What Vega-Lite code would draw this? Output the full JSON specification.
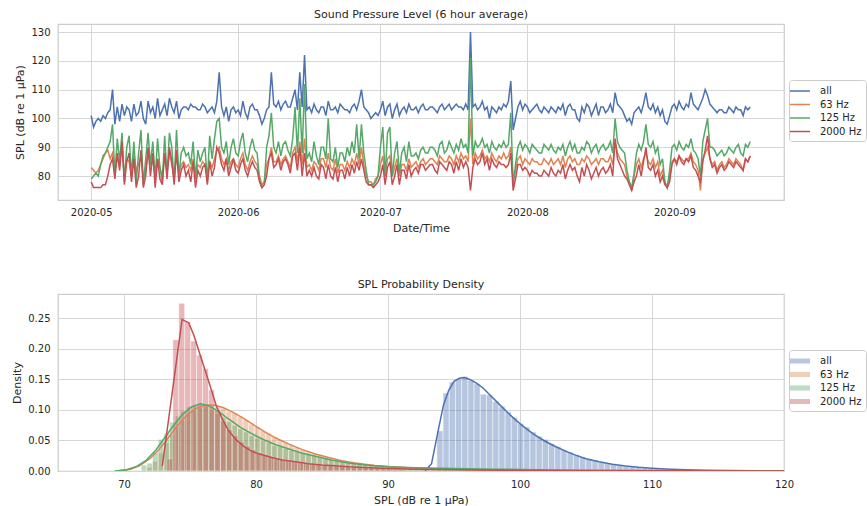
{
"$schema": "https://vega.github.io/schema/vega-lite/v6.json",
"background": "white",
"padding": {"left": 11, "top": 8, "right": 0, "bottom": 0},
"config": {
  "font": "DejaVu Sans",
  "view": {"stroke": "#cccccc", "strokeWidth": 1.25},
  "axis": {"grid": true, "gridColor": "#d6d6d6", "gridWidth": 1, "ticks": false, "domain": false, "labelFontSize": 10, "labelColor": "#262626", "titleFontSize": 11, "titleFontWeight": "normal", "titleColor": "#262626", "labelPadding": 8, "titlePadding": 5, "labelFlush": false, "labelOverlap": false},
  "title": {"fontSize": 11, "fontWeight": "normal", "color": "#262626", "offset": 4},
  "legend": {"labelFontSize": 10, "labelColor": "#262626", "strokeColor": "#cccccc", "fillColor": "white", "padding": 4, "cornerRadius": 3, "rowPadding": 1.5, "labelOffset": 13},
  "concat": {"spacing": 44}
},
"resolve": {"scale": {"color": "independent"}},
"datasets": {
"spl": [
{"t":"2020-05-01T00:00","a":101,"o":83,"g":79,"r":78},{"t":"2020-05-01T12:00","a":97,"o":82,"g":80,"r":76},
{"t":"2020-05-02T00:00","a":99,"o":81,"g":81,"r":76},{"t":"2020-05-02T12:00","a":100,"o":82,"g":80,"r":76},
{"t":"2020-05-03T00:00","a":99,"o":84,"g":84,"r":76},{"t":"2020-05-03T12:00","a":101,"o":86,"g":87,"r":77},
{"t":"2020-05-04T00:00","a":100,"o":88,"g":88,"r":77},{"t":"2020-05-04T12:00","a":102,"o":89,"g":90,"r":80},
{"t":"2020-05-05T00:00","a":103,"o":86,"g":92,"r":84},{"t":"2020-05-05T12:00","a":110,"o":88,"g":98,"r":86},
{"t":"2020-05-06T00:00","a":98,"o":82,"g":80,"r":79},{"t":"2020-05-06T12:00","a":104,"o":86,"g":93,"r":88},
{"t":"2020-05-07T00:00","a":99,"o":84,"g":85,"r":82},{"t":"2020-05-07T12:00","a":105,"o":90,"g":95,"r":92},
{"t":"2020-05-08T00:00","a":101,"o":80,"g":78,"r":77},{"t":"2020-05-08T12:00","a":104,"o":86,"g":90,"r":85},
{"t":"2020-05-09T00:00","a":103,"o":85,"g":94,"r":88},{"t":"2020-05-09T12:00","a":99,"o":80,"g":80,"r":78},
{"t":"2020-05-10T00:00","a":105,"o":88,"g":92,"r":86},{"t":"2020-05-10T12:00","a":101,"o":82,"g":78,"r":76},
{"t":"2020-05-11T00:00","a":102,"o":84,"g":88,"r":80},{"t":"2020-05-11T12:00","a":106,"o":87,"g":96,"r":89},
{"t":"2020-05-12T00:00","a":100,"o":79,"g":77,"r":76},{"t":"2020-05-12T12:00","a":98,"o":82,"g":86,"r":80},
{"t":"2020-05-13T00:00","a":106,"o":88,"g":95,"r":90},{"t":"2020-05-13T12:00","a":102,"o":84,"g":84,"r":80},
{"t":"2020-05-14T00:00","a":104,"o":85,"g":92,"r":88},{"t":"2020-05-14T12:00","a":100,"o":80,"g":79,"r":76},
{"t":"2020-05-15T00:00","a":107,"o":86,"g":93,"r":86},{"t":"2020-05-15T12:00","a":101,"o":83,"g":83,"r":79},
{"t":"2020-05-16T00:00","a":103,"o":80,"g":78,"r":77},{"t":"2020-05-16T12:00","a":105,"o":87,"g":94,"r":88},
{"t":"2020-05-17T00:00","a":101,"o":82,"g":80,"r":79},{"t":"2020-05-17T12:00","a":107,"o":88,"g":95,"r":90},
{"t":"2020-05-18T00:00","a":104,"o":84,"g":90,"r":85},{"t":"2020-05-18T12:00","a":102,"o":80,"g":78,"r":77},
{"t":"2020-05-19T00:00","a":106,"o":87,"g":96,"r":89},{"t":"2020-05-19T12:00","a":100,"o":81,"g":80,"r":78},
{"t":"2020-05-20T00:00","a":103,"o":84,"g":88,"r":82},{"t":"2020-05-20T12:00","a":104,"o":85,"g":90,"r":84},
{"t":"2020-05-21T00:00","a":104,"o":83,"g":87,"r":80},{"t":"2020-05-21T12:00","a":103,"o":84,"g":88,"r":82},
{"t":"2020-05-22T00:00","a":105,"o":82,"g":84,"r":78},{"t":"2020-05-22T12:00","a":104,"o":86,"g":92,"r":85},
{"t":"2020-05-23T00:00","a":104,"o":80,"g":79,"r":76},{"t":"2020-05-23T12:00","a":103,"o":84,"g":89,"r":82},
{"t":"2020-05-24T00:00","a":103,"o":83,"g":85,"r":80},{"t":"2020-05-24T12:00","a":105,"o":85,"g":88,"r":83},
{"t":"2020-05-25T00:00","a":104,"o":84,"g":90,"r":84},{"t":"2020-05-25T12:00","a":102,"o":80,"g":78,"r":77},
{"t":"2020-05-26T00:00","a":103,"o":85,"g":94,"r":85},{"t":"2020-05-26T12:00","a":104,"o":83,"g":86,"r":80},
{"t":"2020-05-27T00:00","a":102,"o":86,"g":93,"r":83},{"t":"2020-05-27T12:00","a":106,"o":89,"g":99,"r":90},
{"t":"2020-05-28T00:00","a":116,"o":90,"g":100,"r":88},{"t":"2020-05-28T12:00","a":104,"o":86,"g":90,"r":84},
{"t":"2020-05-29T00:00","a":101,"o":84,"g":88,"r":82},{"t":"2020-05-29T12:00","a":104,"o":86,"g":92,"r":86},
{"t":"2020-05-30T00:00","a":99,"o":82,"g":84,"r":80},{"t":"2020-05-30T12:00","a":103,"o":85,"g":90,"r":83},
{"t":"2020-05-31T00:00","a":104,"o":86,"g":93,"r":86},{"t":"2020-05-31T12:00","a":102,"o":84,"g":88,"r":82},
{"t":"2020-06-01T00:00","a":103,"o":83,"g":87,"r":81},{"t":"2020-06-01T12:00","a":101,"o":86,"g":92,"r":84},
{"t":"2020-06-02T00:00","a":106,"o":88,"g":95,"r":86},{"t":"2020-06-02T12:00","a":102,"o":84,"g":88,"r":82},
{"t":"2020-06-03T00:00","a":100,"o":82,"g":85,"r":80},{"t":"2020-06-03T12:00","a":104,"o":85,"g":90,"r":83},
{"t":"2020-06-04T00:00","a":105,"o":87,"g":93,"r":85},{"t":"2020-06-04T12:00","a":103,"o":85,"g":89,"r":83},
{"t":"2020-06-05T00:00","a":103,"o":84,"g":88,"r":82},{"t":"2020-06-05T12:00","a":101,"o":80,"g":79,"r":78},
{"t":"2020-06-06T00:00","a":98,"o":77,"g":76,"r":76},{"t":"2020-06-06T12:00","a":100,"o":78,"g":77,"r":77},
{"t":"2020-06-07T00:00","a":103,"o":84,"g":90,"r":80},{"t":"2020-06-07T12:00","a":104,"o":86,"g":94,"r":86},
{"t":"2020-06-08T00:00","a":116,"o":90,"g":102,"r":88},{"t":"2020-06-08T12:00","a":105,"o":85,"g":90,"r":83},
{"t":"2020-06-09T00:00","a":104,"o":85,"g":88,"r":84},{"t":"2020-06-09T12:00","a":106,"o":87,"g":92,"r":86},
{"t":"2020-06-10T00:00","a":103,"o":84,"g":87,"r":82},{"t":"2020-06-10T12:00","a":105,"o":86,"g":91,"r":85},
{"t":"2020-06-11T00:00","a":106,"o":87,"g":92,"r":86},{"t":"2020-06-11T12:00","a":104,"o":85,"g":89,"r":84},
{"t":"2020-06-12T00:00","a":104,"o":83,"g":87,"r":81},{"t":"2020-06-12T12:00","a":107,"o":88,"g":93,"r":87},
{"t":"2020-06-13T00:00","a":110,"o":90,"g":104,"r":88},{"t":"2020-06-13T12:00","a":103,"o":85,"g":88,"r":82},
{"t":"2020-06-14T00:00","a":116,"o":92,"g":107,"r":90},{"t":"2020-06-14T12:00","a":104,"o":84,"g":88,"r":80},
{"t":"2020-06-15T00:00","a":122,"o":93,"g":112,"r":88},{"t":"2020-06-15T12:00","a":103,"o":83,"g":86,"r":80},
{"t":"2020-06-16T00:00","a":104,"o":84,"g":88,"r":82},{"t":"2020-06-16T12:00","a":102,"o":82,"g":85,"r":80},
{"t":"2020-06-17T00:00","a":105,"o":85,"g":92,"r":83},{"t":"2020-06-17T12:00","a":103,"o":84,"g":87,"r":80},
{"t":"2020-06-18T00:00","a":102,"o":82,"g":84,"r":79},{"t":"2020-06-18T12:00","a":104,"o":86,"g":90,"r":84},
{"t":"2020-06-19T00:00","a":104,"o":86,"g":90,"r":83},{"t":"2020-06-19T12:00","a":101,"o":83,"g":86,"r":79},
{"t":"2020-06-20T00:00","a":106,"o":88,"g":100,"r":84},{"t":"2020-06-20T12:00","a":103,"o":83,"g":86,"r":80},
{"t":"2020-06-21T00:00","a":103,"o":82,"g":85,"r":79},{"t":"2020-06-21T12:00","a":104,"o":86,"g":90,"r":83},
{"t":"2020-06-22T00:00","a":102,"o":81,"g":83,"r":78},{"t":"2020-06-22T12:00","a":105,"o":84,"g":88,"r":82},
{"t":"2020-06-23T00:00","a":104,"o":84,"g":88,"r":82},{"t":"2020-06-23T12:00","a":103,"o":82,"g":85,"r":79},
{"t":"2020-06-24T00:00","a":103,"o":85,"g":90,"r":83},{"t":"2020-06-24T12:00","a":102,"o":83,"g":87,"r":80},
{"t":"2020-06-25T00:00","a":104,"o":86,"g":92,"r":84},{"t":"2020-06-25T12:00","a":105,"o":84,"g":88,"r":81},
{"t":"2020-06-26T00:00","a":103,"o":88,"g":98,"r":85},{"t":"2020-06-26T12:00","a":106,"o":84,"g":86,"r":82},
{"t":"2020-06-27T00:00","a":110,"o":90,"g":98,"r":86},{"t":"2020-06-27T12:00","a":104,"o":84,"g":88,"r":82},
{"t":"2020-06-28T00:00","a":103,"o":80,"g":82,"r":78},{"t":"2020-06-28T12:00","a":102,"o":78,"g":77,"r":77},
{"t":"2020-06-29T00:00","a":100,"o":78,"g":77,"r":77},{"t":"2020-06-29T12:00","a":101,"o":77,"g":77,"r":76},
{"t":"2020-06-30T00:00","a":102,"o":79,"g":78,"r":77},{"t":"2020-06-30T12:00","a":101,"o":80,"g":80,"r":78},
{"t":"2020-07-01T00:00","a":103,"o":84,"g":90,"r":80},{"t":"2020-07-01T12:00","a":106,"o":87,"g":97,"r":84},
{"t":"2020-07-02T00:00","a":101,"o":80,"g":80,"r":77},{"t":"2020-07-02T12:00","a":104,"o":86,"g":95,"r":83},
{"t":"2020-07-03T00:00","a":105,"o":87,"g":97,"r":85},{"t":"2020-07-03T12:00","a":100,"o":80,"g":80,"r":77},
{"t":"2020-07-04T00:00","a":103,"o":83,"g":88,"r":80},{"t":"2020-07-04T12:00","a":105,"o":86,"g":92,"r":84},
{"t":"2020-07-05T00:00","a":101,"o":80,"g":81,"r":77},{"t":"2020-07-05T12:00","a":103,"o":84,"g":88,"r":82},
{"t":"2020-07-06T00:00","a":104,"o":84,"g":90,"r":82},{"t":"2020-07-06T12:00","a":102,"o":82,"g":85,"r":79},
{"t":"2020-07-07T00:00","a":105,"o":86,"g":92,"r":84},{"t":"2020-07-07T12:00","a":103,"o":83,"g":87,"r":80},
{"t":"2020-07-08T00:00","a":103,"o":84,"g":87,"r":82},{"t":"2020-07-08T12:00","a":104,"o":85,"g":88,"r":83},
{"t":"2020-07-09T00:00","a":102,"o":83,"g":86,"r":81},{"t":"2020-07-09T12:00","a":104,"o":85,"g":89,"r":84},
{"t":"2020-07-10T00:00","a":105,"o":86,"g":90,"r":84},{"t":"2020-07-10T12:00","a":103,"o":84,"g":88,"r":82},
{"t":"2020-07-11T00:00","a":103,"o":85,"g":88,"r":83},{"t":"2020-07-11T12:00","a":104,"o":86,"g":90,"r":84},
{"t":"2020-07-12T00:00","a":104,"o":86,"g":90,"r":84},{"t":"2020-07-12T12:00","a":103,"o":85,"g":89,"r":82},
{"t":"2020-07-13T00:00","a":102,"o":84,"g":87,"r":81},{"t":"2020-07-13T12:00","a":104,"o":87,"g":91,"r":85},
{"t":"2020-07-14T00:00","a":105,"o":86,"g":92,"r":84},{"t":"2020-07-14T12:00","a":103,"o":85,"g":88,"r":83},
{"t":"2020-07-15T00:00","a":104,"o":85,"g":89,"r":82},{"t":"2020-07-15T12:00","a":105,"o":87,"g":92,"r":85},
{"t":"2020-07-16T00:00","a":103,"o":86,"g":90,"r":84},{"t":"2020-07-16T12:00","a":104,"o":84,"g":88,"r":81},
{"t":"2020-07-17T00:00","a":105,"o":87,"g":91,"r":85},{"t":"2020-07-17T12:00","a":104,"o":85,"g":89,"r":82},
{"t":"2020-07-18T00:00","a":104,"o":88,"g":93,"r":86},{"t":"2020-07-18T12:00","a":103,"o":86,"g":90,"r":83},
{"t":"2020-07-19T00:00","a":105,"o":87,"g":91,"r":85},{"t":"2020-07-19T12:00","a":103,"o":85,"g":88,"r":83},
{"t":"2020-07-20T00:00","a":130,"o":100,"g":121,"r":75},{"t":"2020-07-20T12:00","a":104,"o":84,"g":87,"r":83},
{"t":"2020-07-21T00:00","a":105,"o":88,"g":92,"r":86},{"t":"2020-07-21T12:00","a":103,"o":86,"g":90,"r":84},
{"t":"2020-07-22T00:00","a":104,"o":87,"g":91,"r":85},{"t":"2020-07-22T12:00","a":106,"o":89,"g":93,"r":88},
{"t":"2020-07-23T00:00","a":103,"o":86,"g":90,"r":84},{"t":"2020-07-23T12:00","a":104,"o":87,"g":91,"r":86},
{"t":"2020-07-24T00:00","a":100,"o":85,"g":88,"r":82},{"t":"2020-07-24T12:00","a":104,"o":88,"g":92,"r":86},
{"t":"2020-07-25T00:00","a":103,"o":86,"g":90,"r":84},{"t":"2020-07-25T12:00","a":102,"o":85,"g":89,"r":83},
{"t":"2020-07-26T00:00","a":104,"o":87,"g":91,"r":85},{"t":"2020-07-26T12:00","a":103,"o":86,"g":90,"r":84},
{"t":"2020-07-27T00:00","a":105,"o":88,"g":92,"r":84},{"t":"2020-07-27T12:00","a":104,"o":86,"g":90,"r":83},
{"t":"2020-07-28T00:00","a":106,"o":87,"g":91,"r":84},{"t":"2020-07-28T12:00","a":113,"o":90,"g":102,"r":88},
{"t":"2020-07-29T00:00","a":96,"o":78,"g":77,"r":75},{"t":"2020-07-29T12:00","a":100,"o":82,"g":84,"r":79},
{"t":"2020-07-30T00:00","a":104,"o":86,"g":90,"r":84},{"t":"2020-07-30T12:00","a":106,"o":87,"g":92,"r":84},
{"t":"2020-07-31T00:00","a":103,"o":84,"g":89,"r":82},{"t":"2020-07-31T12:00","a":105,"o":86,"g":91,"r":83},
{"t":"2020-08-01T00:00","a":104,"o":85,"g":90,"r":82},{"t":"2020-08-01T12:00","a":102,"o":84,"g":88,"r":80},
{"t":"2020-08-02T00:00","a":103,"o":86,"g":91,"r":82},{"t":"2020-08-02T12:00","a":104,"o":85,"g":90,"r":81},
{"t":"2020-08-03T00:00","a":105,"o":85,"g":89,"r":81},{"t":"2020-08-03T12:00","a":103,"o":84,"g":88,"r":80},
{"t":"2020-08-04T00:00","a":102,"o":84,"g":88,"r":80},{"t":"2020-08-04T12:00","a":104,"o":86,"g":91,"r":82},
{"t":"2020-08-05T00:00","a":103,"o":85,"g":90,"r":81},{"t":"2020-08-05T12:00","a":102,"o":84,"g":89,"r":80},
{"t":"2020-08-06T00:00","a":104,"o":86,"g":91,"r":83},{"t":"2020-08-06T12:00","a":103,"o":84,"g":89,"r":81},
{"t":"2020-08-07T00:00","a":102,"o":85,"g":88,"r":80},{"t":"2020-08-07T12:00","a":104,"o":86,"g":90,"r":82},
{"t":"2020-08-08T00:00","a":103,"o":84,"g":89,"r":81},{"t":"2020-08-08T12:00","a":105,"o":87,"g":91,"r":84},
{"t":"2020-08-09T00:00","a":101,"o":83,"g":87,"r":79},{"t":"2020-08-09T12:00","a":104,"o":86,"g":90,"r":82},
{"t":"2020-08-10T00:00","a":105,"o":87,"g":92,"r":84},{"t":"2020-08-10T12:00","a":103,"o":85,"g":89,"r":82},
{"t":"2020-08-11T00:00","a":103,"o":86,"g":91,"r":83},{"t":"2020-08-11T12:00","a":100,"o":84,"g":88,"r":80},
{"t":"2020-08-12T00:00","a":99,"o":84,"g":88,"r":78},{"t":"2020-08-12T12:00","a":104,"o":86,"g":90,"r":83},
{"t":"2020-08-13T00:00","a":102,"o":85,"g":89,"r":80},{"t":"2020-08-13T12:00","a":105,"o":87,"g":92,"r":84},
{"t":"2020-08-14T00:00","a":104,"o":86,"g":91,"r":82},{"t":"2020-08-14T12:00","a":101,"o":84,"g":88,"r":79},
{"t":"2020-08-15T00:00","a":103,"o":85,"g":90,"r":81},{"t":"2020-08-15T12:00","a":105,"o":86,"g":91,"r":83},
{"t":"2020-08-16T00:00","a":101,"o":84,"g":88,"r":80},{"t":"2020-08-16T12:00","a":104,"o":86,"g":90,"r":82},
{"t":"2020-08-17T00:00","a":104,"o":86,"g":91,"r":83},{"t":"2020-08-17T12:00","a":102,"o":85,"g":89,"r":81},
{"t":"2020-08-18T00:00","a":103,"o":85,"g":90,"r":82},{"t":"2020-08-18T12:00","a":105,"o":87,"g":92,"r":84},
{"t":"2020-08-19T00:00","a":102,"o":84,"g":88,"r":80},{"t":"2020-08-19T12:00","a":109,"o":92,"g":100,"r":93},
{"t":"2020-08-20T00:00","a":105,"o":88,"g":92,"r":86},{"t":"2020-08-20T12:00","a":104,"o":86,"g":90,"r":84},
{"t":"2020-08-21T00:00","a":103,"o":85,"g":89,"r":82},{"t":"2020-08-21T12:00","a":101,"o":84,"g":88,"r":80},
{"t":"2020-08-22T00:00","a":99,"o":80,"g":82,"r":79},{"t":"2020-08-22T12:00","a":100,"o":78,"g":78,"r":77},
{"t":"2020-08-23T00:00","a":98,"o":75,"g":76,"r":75},{"t":"2020-08-23T12:00","a":102,"o":80,"g":81,"r":78},
{"t":"2020-08-24T00:00","a":103,"o":84,"g":88,"r":80},{"t":"2020-08-24T12:00","a":104,"o":86,"g":91,"r":84},
{"t":"2020-08-25T00:00","a":102,"o":83,"g":89,"r":80},{"t":"2020-08-25T12:00","a":105,"o":86,"g":92,"r":85},
{"t":"2020-08-26T00:00","a":109,"o":88,"g":98,"r":90},{"t":"2020-08-26T12:00","a":104,"o":85,"g":91,"r":83},
{"t":"2020-08-27T00:00","a":103,"o":84,"g":90,"r":82},{"t":"2020-08-27T12:00","a":105,"o":86,"g":92,"r":84},
{"t":"2020-08-28T00:00","a":102,"o":83,"g":88,"r":80},{"t":"2020-08-28T12:00","a":104,"o":85,"g":90,"r":82},
{"t":"2020-08-29T00:00","a":101,"o":80,"g":84,"r":78},{"t":"2020-08-29T12:00","a":103,"o":82,"g":86,"r":80},
{"t":"2020-08-30T00:00","a":99,"o":78,"g":78,"r":77},{"t":"2020-08-30T12:00","a":98,"o":76,"g":76,"r":76},
{"t":"2020-08-31T00:00","a":101,"o":80,"g":82,"r":78},{"t":"2020-08-31T12:00","a":104,"o":85,"g":90,"r":84},
{"t":"2020-09-01T00:00","a":105,"o":86,"g":91,"r":86},{"t":"2020-09-01T12:00","a":103,"o":85,"g":89,"r":84},
{"t":"2020-09-02T00:00","a":106,"o":87,"g":92,"r":87},{"t":"2020-09-02T12:00","a":104,"o":86,"g":90,"r":85},
{"t":"2020-09-03T00:00","a":103,"o":85,"g":89,"r":84},{"t":"2020-09-03T12:00","a":105,"o":86,"g":91,"r":86},
{"t":"2020-09-04T00:00","a":104,"o":86,"g":90,"r":85},{"t":"2020-09-04T12:00","a":109,"o":88,"g":93,"r":87},
{"t":"2020-09-05T00:00","a":105,"o":85,"g":89,"r":83},{"t":"2020-09-05T12:00","a":104,"o":84,"g":88,"r":82},
{"t":"2020-09-06T00:00","a":103,"o":82,"g":86,"r":80},{"t":"2020-09-06T12:00","a":105,"o":75,"g":80,"r":78},
{"t":"2020-09-07T00:00","a":107,"o":86,"g":92,"r":85},{"t":"2020-09-07T12:00","a":110,"o":88,"g":96,"r":89},
{"t":"2020-09-08T00:00","a":108,"o":90,"g":100,"r":94},{"t":"2020-09-08T12:00","a":105,"o":86,"g":90,"r":86},
{"t":"2020-09-09T00:00","a":104,"o":84,"g":90,"r":83},{"t":"2020-09-09T12:00","a":103,"o":85,"g":89,"r":84},
{"t":"2020-09-10T00:00","a":102,"o":82,"g":87,"r":81},{"t":"2020-09-10T12:00","a":103,"o":84,"g":88,"r":83},
{"t":"2020-09-11T00:00","a":103,"o":85,"g":89,"r":84},{"t":"2020-09-11T12:00","a":102,"o":83,"g":87,"r":82},
{"t":"2020-09-12T00:00","a":102,"o":84,"g":88,"r":83},{"t":"2020-09-12T12:00","a":104,"o":86,"g":90,"r":85},
{"t":"2020-09-13T00:00","a":103,"o":85,"g":89,"r":84},{"t":"2020-09-13T12:00","a":102,"o":84,"g":88,"r":83},
{"t":"2020-09-14T00:00","a":104,"o":86,"g":90,"r":85},{"t":"2020-09-14T12:00","a":103,"o":85,"g":91,"r":84},
{"t":"2020-09-15T00:00","a":103,"o":84,"g":88,"r":83},{"t":"2020-09-15T12:00","a":101,"o":82,"g":87,"r":82},
{"t":"2020-09-16T00:00","a":104,"o":86,"g":91,"r":86},{"t":"2020-09-16T12:00","a":103,"o":85,"g":90,"r":85},
{"t":"2020-09-17T00:00","a":104,"o":87,"g":92,"r":87}
],
"hist": [
{"s":"all","x0":93.70,"x1":94.17,"d":0.066},{"s":"all","x0":94.17,"x1":94.64,"d":0.128},{"s":"all","x0":94.64,"x1":95.11,"d":0.146},{"s":"all","x0":95.11,"x1":95.58,"d":0.151},{"s":"all","x0":95.58,"x1":96.05,"d":0.155},{"s":"all","x0":96.05,"x1":96.52,"d":0.149},{"s":"all","x0":96.52,"x1":96.99,"d":0.143},{"s":"all","x0":96.99,"x1":97.46,"d":0.126},{"s":"all","x0":97.46,"x1":97.93,"d":0.125},{"s":"all","x0":97.93,"x1":98.40,"d":0.114},{"s":"all","x0":98.40,"x1":98.87,"d":0.106},{"s":"all","x0":98.87,"x1":99.34,"d":0.097},{"s":"all","x0":99.34,"x1":99.81,"d":0.088},{"s":"all","x0":99.81,"x1":100.28,"d":0.078},{"s":"all","x0":100.28,"x1":100.75,"d":0.072},{"s":"all","x0":100.75,"x1":101.22,"d":0.064},{"s":"all","x0":101.22,"x1":101.69,"d":0.057},{"s":"all","x0":101.69,"x1":102.16,"d":0.052},{"s":"all","x0":102.16,"x1":102.63,"d":0.045},{"s":"all","x0":102.63,"x1":103.10,"d":0.040},{"s":"all","x0":103.10,"x1":103.57,"d":0.035},{"s":"all","x0":103.57,"x1":104.04,"d":0.031},{"s":"all","x0":104.04,"x1":104.51,"d":0.027},{"s":"all","x0":104.51,"x1":104.98,"d":0.023},{"s":"all","x0":104.98,"x1":105.45,"d":0.020},{"s":"all","x0":105.45,"x1":105.92,"d":0.018},{"s":"all","x0":105.92,"x1":106.39,"d":0.015},{"s":"all","x0":106.39,"x1":106.86,"d":0.013},{"s":"all","x0":106.86,"x1":107.33,"d":0.011},{"s":"all","x0":107.33,"x1":107.80,"d":0.0095},{"s":"all","x0":107.80,"x1":108.27,"d":0.008},{"s":"all","x0":108.27,"x1":108.74,"d":0.007},{"s":"all","x0":108.74,"x1":109.21,"d":0.006},{"s":"all","x0":109.21,"x1":109.68,"d":0.005},{"s":"all","x0":109.68,"x1":110.15,"d":0.0045},{"s":"all","x0":110.15,"x1":110.62,"d":0.004},{"s":"all","x0":110.62,"x1":111.09,"d":0.0034},{"s":"all","x0":111.09,"x1":111.56,"d":0.003},{"s":"all","x0":111.56,"x1":112.03,"d":0.0025},{"s":"all","x0":112.03,"x1":112.50,"d":0.002},{"s":"all","x0":112.50,"x1":112.97,"d":0.0017},{"s":"all","x0":112.97,"x1":113.44,"d":0.0014},
{"s":"63 Hz","x0":71.70,"x1":72.13,"d":0.006},{"s":"63 Hz","x0":72.13,"x1":72.56,"d":0.016},{"s":"63 Hz","x0":72.56,"x1":72.99,"d":0.030},{"s":"63 Hz","x0":72.99,"x1":73.42,"d":0.046},{"s":"63 Hz","x0":73.42,"x1":73.85,"d":0.060},{"s":"63 Hz","x0":73.85,"x1":74.28,"d":0.073},{"s":"63 Hz","x0":74.28,"x1":74.71,"d":0.083},{"s":"63 Hz","x0":74.71,"x1":75.14,"d":0.093},{"s":"63 Hz","x0":75.14,"x1":75.57,"d":0.099},{"s":"63 Hz","x0":75.57,"x1":76.00,"d":0.104},{"s":"63 Hz","x0":76.00,"x1":76.43,"d":0.108},{"s":"63 Hz","x0":76.43,"x1":76.86,"d":0.107},{"s":"63 Hz","x0":76.86,"x1":77.29,"d":0.105},{"s":"63 Hz","x0":77.29,"x1":77.72,"d":0.103},{"s":"63 Hz","x0":77.72,"x1":78.15,"d":0.098},{"s":"63 Hz","x0":78.15,"x1":78.58,"d":0.095},{"s":"63 Hz","x0":78.58,"x1":79.01,"d":0.089},{"s":"63 Hz","x0":79.01,"x1":79.44,"d":0.084},{"s":"63 Hz","x0":79.44,"x1":79.87,"d":0.077},{"s":"63 Hz","x0":79.87,"x1":80.30,"d":0.073},{"s":"63 Hz","x0":80.30,"x1":80.73,"d":0.066},{"s":"63 Hz","x0":80.73,"x1":81.16,"d":0.062},{"s":"63 Hz","x0":81.16,"x1":81.59,"d":0.056},{"s":"63 Hz","x0":81.59,"x1":82.02,"d":0.051},{"s":"63 Hz","x0":82.02,"x1":82.45,"d":0.047},{"s":"63 Hz","x0":82.45,"x1":82.88,"d":0.043},{"s":"63 Hz","x0":82.88,"x1":83.31,"d":0.039},{"s":"63 Hz","x0":83.31,"x1":83.74,"d":0.035},{"s":"63 Hz","x0":83.74,"x1":84.17,"d":0.032},{"s":"63 Hz","x0":84.17,"x1":84.60,"d":0.028},{"s":"63 Hz","x0":84.60,"x1":85.03,"d":0.026},{"s":"63 Hz","x0":85.03,"x1":85.46,"d":0.023},{"s":"63 Hz","x0":85.46,"x1":85.89,"d":0.021},{"s":"63 Hz","x0":85.89,"x1":86.32,"d":0.019},{"s":"63 Hz","x0":86.32,"x1":86.75,"d":0.017},{"s":"63 Hz","x0":86.75,"x1":87.18,"d":0.015},{"s":"63 Hz","x0":87.18,"x1":87.61,"d":0.014},{"s":"63 Hz","x0":87.61,"x1":88.04,"d":0.012},{"s":"63 Hz","x0":88.04,"x1":88.47,"d":0.011},{"s":"63 Hz","x0":88.47,"x1":88.90,"d":0.010},{"s":"63 Hz","x0":88.90,"x1":89.33,"d":0.009},{"s":"63 Hz","x0":89.33,"x1":89.76,"d":0.008},{"s":"63 Hz","x0":89.76,"x1":90.19,"d":0.0075},{"s":"63 Hz","x0":90.19,"x1":90.62,"d":0.007},{"s":"63 Hz","x0":90.62,"x1":91.05,"d":0.006},{"s":"63 Hz","x0":91.05,"x1":91.48,"d":0.0055},{"s":"63 Hz","x0":91.48,"x1":91.91,"d":0.005},{"s":"63 Hz","x0":91.91,"x1":92.34,"d":0.0045},{"s":"63 Hz","x0":92.34,"x1":92.77,"d":0.004},{"s":"63 Hz","x0":92.77,"x1":93.20,"d":0.0035},{"s":"63 Hz","x0":93.20,"x1":93.63,"d":0.003},{"s":"63 Hz","x0":93.63,"x1":94.06,"d":0.0028},{"s":"63 Hz","x0":94.06,"x1":94.49,"d":0.0025},
{"s":"125 Hz","x0":71.30,"x1":71.73,"d":0.010},{"s":"125 Hz","x0":71.73,"x1":72.16,"d":0.013},{"s":"125 Hz","x0":72.16,"x1":72.59,"d":0.030},{"s":"125 Hz","x0":72.59,"x1":73.02,"d":0.052},{"s":"125 Hz","x0":73.02,"x1":73.45,"d":0.062},{"s":"125 Hz","x0":73.45,"x1":73.88,"d":0.080},{"s":"125 Hz","x0":73.88,"x1":74.31,"d":0.090},{"s":"125 Hz","x0":74.31,"x1":74.74,"d":0.098},{"s":"125 Hz","x0":74.74,"x1":75.17,"d":0.105},{"s":"125 Hz","x0":75.17,"x1":75.60,"d":0.108},{"s":"125 Hz","x0":75.60,"x1":76.03,"d":0.110},{"s":"125 Hz","x0":76.03,"x1":76.46,"d":0.106},{"s":"125 Hz","x0":76.46,"x1":76.89,"d":0.100},{"s":"125 Hz","x0":76.89,"x1":77.32,"d":0.094},{"s":"125 Hz","x0":77.32,"x1":77.75,"d":0.088},{"s":"125 Hz","x0":77.75,"x1":78.18,"d":0.081},{"s":"125 Hz","x0":78.18,"x1":78.61,"d":0.075},{"s":"125 Hz","x0":78.61,"x1":79.04,"d":0.069},{"s":"125 Hz","x0":79.04,"x1":79.47,"d":0.064},{"s":"125 Hz","x0":79.47,"x1":79.90,"d":0.058},{"s":"125 Hz","x0":79.90,"x1":80.33,"d":0.054},{"s":"125 Hz","x0":80.33,"x1":80.76,"d":0.050},{"s":"125 Hz","x0":80.76,"x1":81.19,"d":0.047},{"s":"125 Hz","x0":81.19,"x1":81.62,"d":0.042},{"s":"125 Hz","x0":81.62,"x1":82.05,"d":0.040},{"s":"125 Hz","x0":82.05,"x1":82.48,"d":0.037},{"s":"125 Hz","x0":82.48,"x1":82.91,"d":0.034},{"s":"125 Hz","x0":82.91,"x1":83.34,"d":0.032},{"s":"125 Hz","x0":83.34,"x1":83.77,"d":0.030},{"s":"125 Hz","x0":83.77,"x1":84.20,"d":0.027},{"s":"125 Hz","x0":84.20,"x1":84.63,"d":0.025},{"s":"125 Hz","x0":84.63,"x1":85.06,"d":0.023},{"s":"125 Hz","x0":85.06,"x1":85.49,"d":0.021},{"s":"125 Hz","x0":85.49,"x1":85.92,"d":0.019},{"s":"125 Hz","x0":85.92,"x1":86.35,"d":0.017},{"s":"125 Hz","x0":86.35,"x1":86.78,"d":0.016},{"s":"125 Hz","x0":86.78,"x1":87.21,"d":0.014},{"s":"125 Hz","x0":87.21,"x1":87.64,"d":0.013},{"s":"125 Hz","x0":87.64,"x1":88.07,"d":0.012},{"s":"125 Hz","x0":88.07,"x1":88.50,"d":0.011},{"s":"125 Hz","x0":88.50,"x1":88.93,"d":0.010},{"s":"125 Hz","x0":88.93,"x1":89.36,"d":0.009},{"s":"125 Hz","x0":89.36,"x1":89.79,"d":0.008},{"s":"125 Hz","x0":89.79,"x1":90.22,"d":0.0075},{"s":"125 Hz","x0":90.22,"x1":90.65,"d":0.007},{"s":"125 Hz","x0":90.65,"x1":91.08,"d":0.0065},{"s":"125 Hz","x0":91.08,"x1":91.51,"d":0.006},{"s":"125 Hz","x0":91.51,"x1":91.94,"d":0.0055},{"s":"125 Hz","x0":91.94,"x1":92.37,"d":0.005},{"s":"125 Hz","x0":92.37,"x1":92.80,"d":0.0048},{"s":"125 Hz","x0":92.80,"x1":93.23,"d":0.0045},{"s":"125 Hz","x0":93.23,"x1":93.66,"d":0.0042},{"s":"125 Hz","x0":93.66,"x1":94.09,"d":0.004},{"s":"125 Hz","x0":94.09,"x1":94.52,"d":0.0038},{"s":"125 Hz","x0":94.52,"x1":94.95,"d":0.0036},{"s":"125 Hz","x0":94.95,"x1":95.38,"d":0.0034},{"s":"125 Hz","x0":95.38,"x1":95.81,"d":0.0032},{"s":"125 Hz","x0":95.81,"x1":96.24,"d":0.003},{"s":"125 Hz","x0":96.24,"x1":96.67,"d":0.003},{"s":"125 Hz","x0":96.67,"x1":97.10,"d":0.0028},{"s":"125 Hz","x0":97.10,"x1":97.53,"d":0.0026},{"s":"125 Hz","x0":97.53,"x1":97.96,"d":0.0025},{"s":"125 Hz","x0":97.96,"x1":98.39,"d":0.0024},{"s":"125 Hz","x0":98.39,"x1":98.82,"d":0.0022},{"s":"125 Hz","x0":98.82,"x1":99.25,"d":0.002},
{"s":"2000 Hz","x0":73.25,"x1":73.70,"d":0.020},{"s":"2000 Hz","x0":73.70,"x1":74.15,"d":0.215},{"s":"2000 Hz","x0":74.15,"x1":74.60,"d":0.275},{"s":"2000 Hz","x0":74.60,"x1":75.05,"d":0.245},{"s":"2000 Hz","x0":75.05,"x1":75.50,"d":0.213},{"s":"2000 Hz","x0":75.50,"x1":75.95,"d":0.190},{"s":"2000 Hz","x0":75.95,"x1":76.40,"d":0.168},{"s":"2000 Hz","x0":76.40,"x1":76.85,"d":0.133},{"s":"2000 Hz","x0":76.85,"x1":77.30,"d":0.100},{"s":"2000 Hz","x0":77.30,"x1":77.75,"d":0.082},{"s":"2000 Hz","x0":77.75,"x1":78.20,"d":0.068},{"s":"2000 Hz","x0":78.20,"x1":78.65,"d":0.058},{"s":"2000 Hz","x0":78.65,"x1":79.10,"d":0.048},{"s":"2000 Hz","x0":79.10,"x1":79.55,"d":0.041},{"s":"2000 Hz","x0":79.55,"x1":80.00,"d":0.035},{"s":"2000 Hz","x0":80.00,"x1":80.45,"d":0.030},{"s":"2000 Hz","x0":80.45,"x1":80.90,"d":0.027},{"s":"2000 Hz","x0":80.90,"x1":81.35,"d":0.024},{"s":"2000 Hz","x0":81.35,"x1":81.80,"d":0.021},{"s":"2000 Hz","x0":81.80,"x1":82.25,"d":0.019},{"s":"2000 Hz","x0":82.25,"x1":82.70,"d":0.017},{"s":"2000 Hz","x0":82.70,"x1":83.15,"d":0.016},{"s":"2000 Hz","x0":83.15,"x1":83.60,"d":0.015},{"s":"2000 Hz","x0":83.60,"x1":84.05,"d":0.013},{"s":"2000 Hz","x0":84.05,"x1":84.50,"d":0.012},{"s":"2000 Hz","x0":84.50,"x1":84.95,"d":0.011},{"s":"2000 Hz","x0":84.95,"x1":85.40,"d":0.010},{"s":"2000 Hz","x0":85.40,"x1":85.85,"d":0.009},{"s":"2000 Hz","x0":85.85,"x1":86.30,"d":0.0085},{"s":"2000 Hz","x0":86.30,"x1":86.75,"d":0.008},{"s":"2000 Hz","x0":86.75,"x1":87.20,"d":0.0072},{"s":"2000 Hz","x0":87.20,"x1":87.65,"d":0.0065},{"s":"2000 Hz","x0":87.65,"x1":88.10,"d":0.006},{"s":"2000 Hz","x0":88.10,"x1":88.55,"d":0.0055},{"s":"2000 Hz","x0":88.55,"x1":89.00,"d":0.005},{"s":"2000 Hz","x0":89.00,"x1":89.45,"d":0.0045},{"s":"2000 Hz","x0":89.45,"x1":89.90,"d":0.004},{"s":"2000 Hz","x0":89.90,"x1":90.35,"d":0.0035},{"s":"2000 Hz","x0":90.35,"x1":90.80,"d":0.003},{"s":"2000 Hz","x0":90.80,"x1":91.25,"d":0.0028}
],
"kde": [
{"s":"all","x":92.8,"d":0},{"s":"all","x":93.3,"d":0.012},{"s":"all","x":93.8,"d":0.066},{"s":"all","x":94.2,"d":0.108},{"s":"all","x":94.6,"d":0.132},{"s":"all","x":95.0,"d":0.147},{"s":"all","x":95.4,"d":0.152},{"s":"all","x":95.8,"d":0.153},{"s":"all","x":96.2,"d":0.15},{"s":"all","x":96.7,"d":0.144},{"s":"all","x":97.2,"d":0.136},{"s":"all","x":97.8,"d":0.123},{"s":"all","x":98.4,"d":0.11},{"s":"all","x":99.0,"d":0.097},{"s":"all","x":99.6,"d":0.085},{"s":"all","x":100.2,"d":0.074},{"s":"all","x":101.0,"d":0.061},{"s":"all","x":101.8,"d":0.05},{"s":"all","x":102.6,"d":0.041},{"s":"all","x":103.4,"d":0.033},{"s":"all","x":104.2,"d":0.026},{"s":"all","x":105,"d":0.02},{"s":"all","x":106,"d":0.015},{"s":"all","x":107,"d":0.011},{"s":"all","x":108,"d":0.008},{"s":"all","x":109,"d":0.006},{"s":"all","x":110,"d":0.0045},{"s":"all","x":111,"d":0.0033},{"s":"all","x":112,"d":0.0024},{"s":"all","x":114,"d":0.0013},{"s":"all","x":116,"d":0.0007},{"s":"all","x":118,"d":0.0004},{"s":"all","x":120,"d":0.0002},
{"s":"63 Hz","x":69.5,"d":0},{"s":"63 Hz","x":70.5,"d":0.003},{"s":"63 Hz","x":71.2,"d":0.009},{"s":"63 Hz","x":72,"d":0.021},{"s":"63 Hz","x":72.6,"d":0.034},{"s":"63 Hz","x":73.2,"d":0.05},{"s":"63 Hz","x":74,"d":0.073},{"s":"63 Hz","x":74.8,"d":0.092},{"s":"63 Hz","x":75.5,"d":0.103},{"s":"63 Hz","x":76.2,"d":0.108},{"s":"63 Hz","x":76.8,"d":0.108},{"s":"63 Hz","x":77.5,"d":0.104},{"s":"63 Hz","x":78.2,"d":0.097},{"s":"63 Hz","x":79,"d":0.087},{"s":"63 Hz","x":79.8,"d":0.076},{"s":"63 Hz","x":80.6,"d":0.065},{"s":"63 Hz","x":81.5,"d":0.054},{"s":"63 Hz","x":82.5,"d":0.044},{"s":"63 Hz","x":83.5,"d":0.035},{"s":"63 Hz","x":84.5,"d":0.028},{"s":"63 Hz","x":85.5,"d":0.022},{"s":"63 Hz","x":86.5,"d":0.017},{"s":"63 Hz","x":87.5,"d":0.013},{"s":"63 Hz","x":89,"d":0.009},{"s":"63 Hz","x":90.5,"d":0.0065},{"s":"63 Hz","x":92,"d":0.0048},{"s":"63 Hz","x":94,"d":0.0034},{"s":"63 Hz","x":96,"d":0.0024},{"s":"63 Hz","x":98,"d":0.0016},{"s":"63 Hz","x":100,"d":0.001},{"s":"63 Hz","x":105,"d":0.0004},{"s":"63 Hz","x":110,"d":0.0002},{"s":"63 Hz","x":120,"d":0},
{"s":"125 Hz","x":69.3,"d":0},{"s":"125 Hz","x":70.2,"d":0.002},{"s":"125 Hz","x":71,"d":0.008},{"s":"125 Hz","x":71.7,"d":0.018},{"s":"125 Hz","x":72.4,"d":0.034},{"s":"125 Hz","x":73,"d":0.052},{"s":"125 Hz","x":73.7,"d":0.073},{"s":"125 Hz","x":74.4,"d":0.092},{"s":"125 Hz","x":75.1,"d":0.105},{"s":"125 Hz","x":75.8,"d":0.11},{"s":"125 Hz","x":76.5,"d":0.106},{"s":"125 Hz","x":77.2,"d":0.097},{"s":"125 Hz","x":78,"d":0.084},{"s":"125 Hz","x":78.8,"d":0.072},{"s":"125 Hz","x":79.6,"d":0.062},{"s":"125 Hz","x":80.5,"d":0.052},{"s":"125 Hz","x":81.5,"d":0.043},{"s":"125 Hz","x":82.5,"d":0.036},{"s":"125 Hz","x":83.5,"d":0.029},{"s":"125 Hz","x":84.5,"d":0.024},{"s":"125 Hz","x":85.7,"d":0.018},{"s":"125 Hz","x":87,"d":0.013},{"s":"125 Hz","x":88.5,"d":0.0095},{"s":"125 Hz","x":90,"d":0.007},{"s":"125 Hz","x":92,"d":0.0055},{"s":"125 Hz","x":94,"d":0.0045},{"s":"125 Hz","x":96,"d":0.0037},{"s":"125 Hz","x":98,"d":0.003},{"s":"125 Hz","x":100,"d":0.0025},{"s":"125 Hz","x":103,"d":0.0018},{"s":"125 Hz","x":106,"d":0.0013},{"s":"125 Hz","x":110,"d":0.0008},{"s":"125 Hz","x":115,"d":0.0004},{"s":"125 Hz","x":120,"d":0.0002},
{"s":"2000 Hz","x":72.9,"d":0.008},{"s":"2000 Hz","x":74.4,"d":0.248},{"s":"2000 Hz","x":74.9,"d":0.243},{"s":"2000 Hz","x":75.3,"d":0.222},{"s":"2000 Hz","x":75.8,"d":0.188},{"s":"2000 Hz","x":76.4,"d":0.148},{"s":"2000 Hz","x":77.0,"d":0.106},{"s":"2000 Hz","x":77.5,"d":0.083},{"s":"2000 Hz","x":77.9,"d":0.067},{"s":"2000 Hz","x":78.5,"d":0.051},{"s":"2000 Hz","x":79.1,"d":0.04},{"s":"2000 Hz","x":79.8,"d":0.031},{"s":"2000 Hz","x":80.4,"d":0.027},{"s":"2000 Hz","x":81.2,"d":0.022},{"s":"2000 Hz","x":82,"d":0.018},{"s":"2000 Hz","x":83,"d":0.015},{"s":"2000 Hz","x":84,"d":0.012},{"s":"2000 Hz","x":85,"d":0.01},{"s":"2000 Hz","x":86,"d":0.0085},{"s":"2000 Hz","x":87,"d":0.007},{"s":"2000 Hz","x":88.5,"d":0.0055},{"s":"2000 Hz","x":90,"d":0.0042},{"s":"2000 Hz","x":92,"d":0.003},{"s":"2000 Hz","x":95,"d":0.002},{"s":"2000 Hz","x":100,"d":0.001},{"s":"2000 Hz","x":105,"d":0.0006},{"s":"2000 Hz","x":110,"d":0.0003},{"s":"2000 Hz","x":120,"d":0.0001}
]
},
"vconcat": [
{
  "title": "Sound Pressure Level (6 hour average)",
  "width": 726, "height": 176,
  "data": {"name": "spl"},
  "transform": [{"fold": ["a", "o", "g", "r"], "as": ["k", "v"]}],
  "mark": {"type": "line", "strokeWidth": 1.5, "clip": true},
  "encoding": {
    "x": {"field": "t", "type": "temporal",
      "scale": {"domain": [{"year": 2020, "month": 4, "date": 24}, {"year": 2020, "month": 9, "date": 24, "hours": 3}]},
      "axis": {"title": "Date/Time", "format": "%Y-%m", "tickCount": {"interval": "month", "step": 1}, "labelPadding": 7}},
    "y": {"field": "v", "type": "quantitative",
      "scale": {"domain": [71.7, 132.8], "nice": false, "zero": false},
      "axis": {"title": "SPL (dB re 1 µPa)", "values": [80, 90, 100, 110, 120, 130]}},
    "color": {"field": "k", "type": "nominal",
      "scale": {"domain": ["a", "o", "g", "r"], "range": ["#4c72b0", "#dd8452", "#55a868", "#c44e52"]},
      "legend": {"title": null, "orient": "none", "legendX": 731, "legendY": 56,
        "symbolType": "M-1.6,0L1.6,0", "symbolSize": 156, "symbolStrokeWidth": 1.5,
        "labelExpr": "{'a': 'all', 'o': '63 Hz', 'g': '125 Hz', 'r': '2000 Hz'}[datum.label]"}}
  }
},
{
  "title": "SPL Probability Density",
  "width": 726, "height": 177,
  "layer": [
    {
      "data": {"name": "hist"},
      "mark": {"type": "bar", "opacity": 0.4, "stroke": "white", "strokeWidth": 0.6, "clip": true},
      "encoding": {
        "x": {"field": "x0", "type": "quantitative",
          "scale": {"domain": [65, 120], "nice": false, "zero": false},
          "axis": {"title": "SPL (dB re 1 µPa)", "values": [70, 80, 90, 100, 110, 120]}},
        "x2": {"field": "x1"},
        "y": {"field": "d", "type": "quantitative",
          "scale": {"domain": [0, 0.29], "nice": false},
          "axis": {"title": "Density", "values": [0, 0.05, 0.1, 0.15, 0.2, 0.25], "format": ".2f"}},
        "y2": {"datum": 0},
        "color": {"field": "s", "type": "nominal",
          "scale": {"domain": ["all", "63 Hz", "125 Hz", "2000 Hz"], "range": ["#4c72b0", "#dd8452", "#55a868", "#c44e52"]},
          "legend": {"title": null, "orient": "none", "legendX": 731, "legendY": 56,
            "symbolType": "M-1.43,-0.36L1.43,-0.36L1.43,0.36L-1.43,0.36Z", "symbolSize": 196, "symbolOpacity": 0.4, "symbolStrokeWidth": 0}}
      }
    },
    {
      "data": {"name": "kde"},
      "mark": {"type": "line", "strokeWidth": 1.5, "clip": true},
      "encoding": {
        "x": {"field": "x", "type": "quantitative",
          "axis": {"title": "SPL (dB re 1 µPa)", "values": [70, 80, 90, 100, 110, 120]}},
        "y": {"field": "d", "type": "quantitative",
          "axis": {"title": "Density", "values": [0, 0.05, 0.1, 0.15, 0.2, 0.25], "format": ".2f"}},
        "color": {"field": "s", "type": "nominal", "legend": null}
      }
    }
  ]
}
]
}
